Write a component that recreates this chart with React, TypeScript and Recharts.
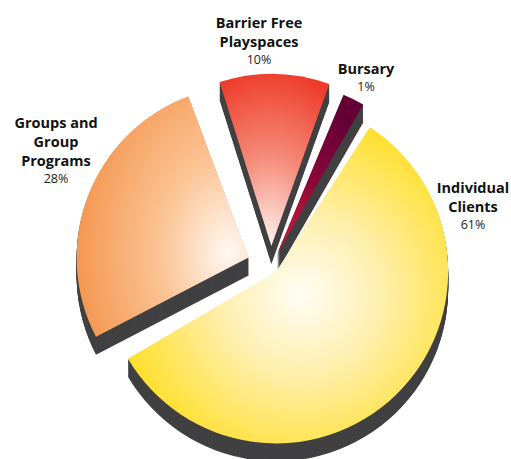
import { PieChart, Pie, Cell } from "recharts";

const categories = ["Individual Clients", "Groups and Group Programs", "Barrier Free Playspaces", "Bursary"];
const shares = [61, 28, 10, 1];
const labelLines = [["Individual", "Clients"], ["Groups and", "Group", "Programs"], ["Barrier Free", "Playspaces"], ["Bursary"]];

const data = categories.map((name, i) => ({ name, value: shares[i] }));

// layout / look
const W = 511;
const H = 459;
const CX = 271;
const CY = 266;
const R = 172;
const START = 57;
const PAD = 3;
const MIN_ANGLE = 4;
const DEPTH = 18;
const SHADOW = "#414042";
const explode = [7.5, 24, 20, 14];
const gradIds = ["gYellow", "gOrange", "gRed", "gMaroon"];
// label anchor (centre x, first baseline y)
const labelAt = [
  [473, 193],
  [56, 128],
  [259, 28],
  [366, 74],
];

// same angle split recharts uses, to push each slice out along its middle
function midAngles() {
  const total = shares.reduce((a, b) => a + b, 0);
  const real = 360 - shares.length * (PAD + MIN_ANGLE);
  let a = START;
  return shares.map((v) => {
    const span = MIN_ANGLE + (v / total) * real;
    const mid = a - span / 2;
    a -= span + PAD;
    return mid;
  });
}

const mids = midAngles();
const centers = mids.map((m, i) => {
  const rad = (m * Math.PI) / 180;
  return { x: CX + explode[i] * Math.cos(rad), y: CY - explode[i] * Math.sin(rad) };
});

function slicePie(key: string, idx: number, dy: number, fill: string) {
  return (
    <Pie
      key={key}
      data={data}
      dataKey="value"
      nameKey="name"
      cx={centers[idx].x}
      cy={centers[idx].y + dy}
      innerRadius={0}
      outerRadius={R}
      startAngle={START}
      endAngle={START - 360}
      paddingAngle={PAD}
      minAngle={MIN_ANGLE}
      stroke="none"
      label={false}
      labelLine={false}
      legendType="none"
      isAnimationActive={false}
    >
      {data.map((d, j) => (
        <Cell key={d.name} fill={j === idx ? fill : "none"} stroke="none" />
      ))}
    </Pie>
  );
}

export default function App() {
  const shadows: any[] = [];
  for (let i = 0; i < data.length; i++) {
    for (let k = DEPTH; k >= 1; k--) {
      shadows.push(slicePie(`s${i}-${k}`, i, k, SHADOW));
    }
  }
  const tops = data.map((d, i) => slicePie(`t${i}`, i, 0, `url(#${gradIds[i]})`));

  return (
    <div style={{ position: "absolute", left: 0, top: 0, width: W, height: H, background: "#fff" }}>
      <PieChart width={W} height={H} margin={{ top: 0, right: 0, bottom: 0, left: 0 }}>
        <defs>
          <radialGradient id="gYellow" cx="0.54" cy="0.53" r="0.62" fx="0.54" fy="0.53">
            <stop offset="0" stopColor="#FFFDF5" />
            <stop offset="0.4" stopColor="#FEEFAE" />
            <stop offset="1" stopColor="#FFDD18" />
          </radialGradient>
          <radialGradient id="gOrange" cx="0.88" cy="0.65" r="0.85" fx="0.88" fy="0.65">
            <stop offset="0" stopColor="#FFF8F2" />
            <stop offset="0.45" stopColor="#FBC597" />
            <stop offset="1" stopColor="#F59A55" />
          </radialGradient>
          <radialGradient id="gRed" cx="0.45" cy="1" r="1.05" fx="0.45" fy="1">
            <stop offset="0" stopColor="#FFF4F0" />
            <stop offset="0.5" stopColor="#F58A78" />
            <stop offset="1" stopColor="#EE3A29" />
          </radialGradient>
          <radialGradient id="gMaroon" cx="0.3" cy="1" r="1" fx="0.3" fy="1">
            <stop offset="0" stopColor="#E8223A" />
            <stop offset="0.45" stopColor="#8A0838" />
            <stop offset="1" stopColor="#630036" />
          </radialGradient>
        </defs>
        {shadows}
        {tops}
      </PieChart>
      <svg
        width={W}
        height={H}
        style={{ position: "absolute", left: 0, top: 0, pointerEvents: "none" }}
      >
        {labelLines.map((lines, i) => {
          const [x, y] = labelAt[i];
          return (
            <g key={categories[i]} fontFamily="'Open Sans', sans-serif" textAnchor="middle">
              {lines.map((t, k) => (
                <text key={t} x={x} y={y + k * 19} fontSize={14.5} fontWeight={700} fill="#111">
                  {t}
                </text>
              ))}
              <text x={x} y={y + lines.length * 19 - 2} fontSize={12.5} fill="#222">
                {shares[i]}%
              </text>
            </g>
          );
        })}
      </svg>
    </div>
  );
}
